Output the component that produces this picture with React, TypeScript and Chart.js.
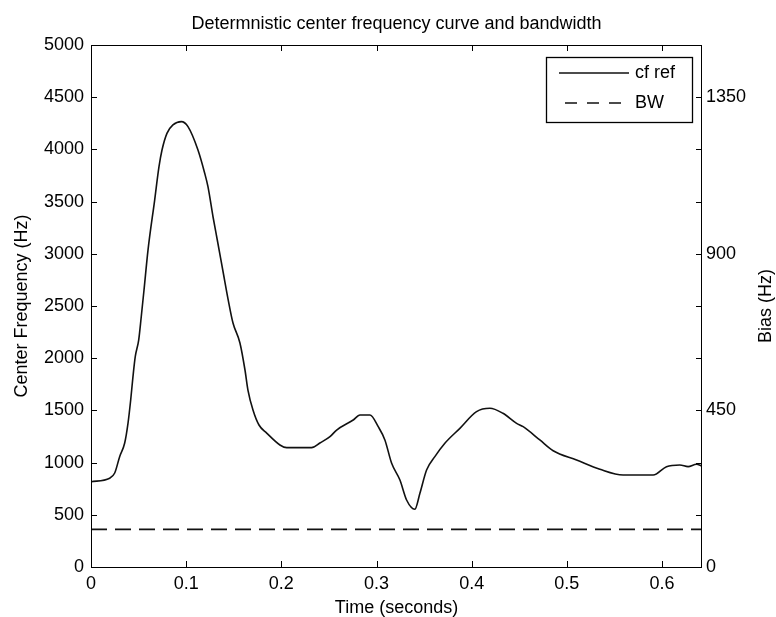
import React, { useEffect, useRef } from "react";
import { Chart, registerables } from "chart.js";

Chart.register(...registerables);

// ---- data ----
const TIME = [
  0.0, 0.0196, 0.0249, 0.0301, 0.0354, 0.0389, 0.0417, 0.0441, 0.0465, 0.0501,
  0.0528, 0.0557, 0.0599, 0.0669, 0.0714, 0.0746, 0.0798, 0.0861, 0.0949, 0.1019,
  0.1124, 0.1194, 0.1229, 0.1282, 0.1327, 0.139, 0.1442, 0.1492, 0.1565, 0.1618,
  0.1649, 0.1702, 0.1765, 0.1846, 0.1985, 0.2056, 0.2318, 0.2405, 0.2511, 0.2581,
  0.2755, 0.2826, 0.2931, 0.3018, 0.3088, 0.3159, 0.3246, 0.3316, 0.3403, 0.3456,
  0.3526, 0.3613, 0.3718, 0.3876, 0.4051, 0.4191, 0.4328, 0.4472, 0.4541, 0.4716,
  0.4856, 0.5102, 0.5347, 0.5591, 0.5907, 0.6047, 0.6187, 0.6274, 0.6362, 0.6418,
];
const CF_REF = [
  817, 850, 900, 1057, 1188, 1379, 1600, 1823, 2014, 2174,
  2397, 2653, 3036, 3515, 3832, 3994, 4154, 4234, 4266, 4218,
  3994, 3774, 3643, 3355, 3132, 2816, 2557, 2337, 2146, 1887,
  1695, 1504, 1360, 1283, 1169, 1143, 1143, 1188, 1248, 1312,
  1408, 1456, 1456, 1344, 1217, 993, 833, 642, 553, 706,
  929, 1057, 1185, 1328, 1488, 1520, 1472, 1376, 1344, 1217,
  1114, 1025, 936, 881, 881, 961, 977, 961, 984, 967,
];
const BW_TIME = [0, 0.642];
const BW = [108, 108];

const X_TICKS = [0, 0.1, 0.2, 0.3, 0.4, 0.5, 0.6];
const LEFT_TICKS = [0, 500, 1000, 1500, 2000, 2500, 3000, 3500, 4000, 4500, 5000];
const RIGHT_TICKS = [0, 450, 900, 1350];
const X_MAX = 0.642;
const LEFT_MAX = 5000;
const RIGHT_MAX = 1500;

const TITLE = "Determnistic center frequency curve and bandwidth";
const X_TITLE = "Time (seconds)";
const LEFT_TITLE = "Center Frequency (Hz)";
const RIGHT_TITLE = "Bias (Hz)";
const SERIES_NAMES = ["cf ref", "BW"];

const FONT = '"Liberation Sans", Arial, sans-serif';
const FONT_SIZE = 18;

const framePlugin = {
  id: "matlabFrame",
  afterDraw(chart: any) {
    const { ctx, chartArea: a, scales } = chart;
    const xs = scales.x;
    const yl = scales.y;
    const yr = scales.y1;
    const TICK = 6;
    ctx.save();
    ctx.strokeStyle = "#000";
    ctx.lineWidth = 1;
    ctx.setLineDash([]);
    ctx.strokeRect(a.left + 0.5, a.top + 0.5, a.right - a.left - 1, a.bottom - a.top);

    ctx.beginPath();
    X_TICKS.forEach((v) => {
      const px = Math.round(xs.getPixelForValue(v)) + 0.5;
      ctx.moveTo(px, a.bottom);
      ctx.lineTo(px, a.bottom - TICK);
      ctx.moveTo(px, a.top);
      ctx.lineTo(px, a.top + TICK);
    });
    LEFT_TICKS.forEach((v) => {
      const py = Math.round(yl.getPixelForValue(v)) + 0.5;
      ctx.moveTo(a.left, py);
      ctx.lineTo(a.left + TICK, py);
      ctx.moveTo(a.right, py);
      ctx.lineTo(a.right - TICK, py);
    });
    RIGHT_TICKS.forEach((v) => {
      const py = Math.round(yr.getPixelForValue(v)) + 0.5;
      ctx.moveTo(a.right, py);
      ctx.lineTo(a.right - TICK, py);
    });
    ctx.stroke();

    // texts
    ctx.fillStyle = "#000";
    ctx.font = `${FONT_SIZE}px ${FONT}`;
    ctx.textAlign = "center";
    ctx.textBaseline = "middle";
    const cx = (a.left + a.right) / 2;
    const cy = (a.top + a.bottom) / 2;
    ctx.fillText(TITLE, cx, a.top - 21);
    ctx.fillText(X_TITLE, cx, a.bottom + 41);

    ctx.save();
    ctx.translate(22, cy);
    ctx.rotate(-Math.PI / 2);
    ctx.fillText(LEFT_TITLE, 0, 0);
    ctx.restore();

    ctx.save();
    ctx.translate(a.right + 64, cy);
    ctx.rotate(-Math.PI / 2);
    ctx.fillText(RIGHT_TITLE, 0, 0);
    ctx.restore();

    // legend
    const bx = a.right - 156;
    const by = a.top + 12;
    const bw = 146;
    const bh = 65;
    ctx.fillStyle = "#fff";
    ctx.fillRect(bx, by, bw, bh);
    ctx.strokeStyle = "#000";
    ctx.lineWidth = 1.3;
    ctx.strokeRect(bx + 0.5, by + 0.5, bw, bh);
    const ds = chart.data.datasets;
    const rows = [by + 16, by + 46];
    ds.forEach((d: any, i: number) => {
      ctx.save();
      ctx.strokeStyle = d.borderColor;
      ctx.lineWidth = 1.3;
      ctx.setLineDash(i === 1 ? [12, 10] : []);
      ctx.beginPath();
      const x0 = i === 1 ? bx + 19 : bx + 13;
      ctx.moveTo(x0, rows[i]);
      ctx.lineTo(bx + 83, rows[i]);
      ctx.stroke();
      ctx.restore();
      ctx.fillStyle = "#000";
      ctx.textAlign = "left";
      ctx.textBaseline = "middle";
      ctx.fillText(d.label, bx + 89, rows[i]);
    });
    ctx.restore();
  },
};

export default function App() {
  const ref = useRef<HTMLCanvasElement | null>(null);

  useEffect(() => {
    if (!ref.current) return;
    Chart.defaults.font.family = FONT;
    Chart.defaults.font.size = FONT_SIZE;
    Chart.defaults.color = "#000";

    const chart = new Chart(ref.current, {
      type: "line",
      data: {
        datasets: [
          {
            label: SERIES_NAMES[0],
            data: TIME.map((t, i) => ({ x: t, y: CF_REF[i] })),
            borderColor: "#111",
            borderWidth: 1.6,
            pointRadius: 0,
            cubicInterpolationMode: "monotone",
            yAxisID: "y",
          },
          {
            label: SERIES_NAMES[1],
            data: BW_TIME.map((t, i) => ({ x: t, y: BW[i] })),
            borderColor: "#111",
            borderWidth: 1.6,
            borderDash: [16, 8],
            pointRadius: 0,
            yAxisID: "y1",
          },
        ],
      },
      options: {
        responsive: false,
        animation: false,
        devicePixelRatio: 1,
        layout: { padding: { top: 45, left: 0, right: 0, bottom: 0 } },
        plugins: {
          legend: { display: false },
          title: { display: false },
          tooltip: { enabled: false },
        },
        scales: {
          x: {
            type: "linear",
            min: 0,
            max: X_MAX,
            grid: { display: false, drawTicks: false },
            border: { display: false },
            ticks: { padding: 6, maxRotation: 0, callback: (v: any) => String(v) },
            afterBuildTicks: (s: any) => {
              s.ticks = X_TICKS.map((v) => ({ value: v }));
            },
            afterFit: (s: any) => {
              s.height = 50;
            },
          },
          y: {
            type: "linear",
            position: "left",
            min: 0,
            max: LEFT_MAX,
            grid: { display: false, drawTicks: false },
            border: { display: false },
            ticks: { padding: 7, callback: (v: any) => String(v) },
            afterBuildTicks: (s: any) => {
              s.ticks = LEFT_TICKS.map((v) => ({ value: v }));
            },
            afterFit: (s: any) => {
              s.width = 91;
            },
          },
          y1: {
            type: "linear",
            position: "right",
            min: 0,
            max: RIGHT_MAX,
            grid: { display: false, drawTicks: false },
            border: { display: false },
            ticks: { padding: 4, callback: (v: any) => String(v) },
            afterBuildTicks: (s: any) => {
              s.ticks = RIGHT_TICKS.map((v) => ({ value: v }));
            },
            afterFit: (s: any) => {
              s.width = 74;
            },
          },
        },
      },
      plugins: [framePlugin],
    });
    return () => chart.destroy();
  }, []);

  return (
    <div style={{ position: "fixed", left: 0, top: 0, width: 776, height: 617, background: "#fff" }}>
      <canvas ref={ref} width={776} height={617} style={{ width: 776, height: 617 }} />
    </div>
  );
}
